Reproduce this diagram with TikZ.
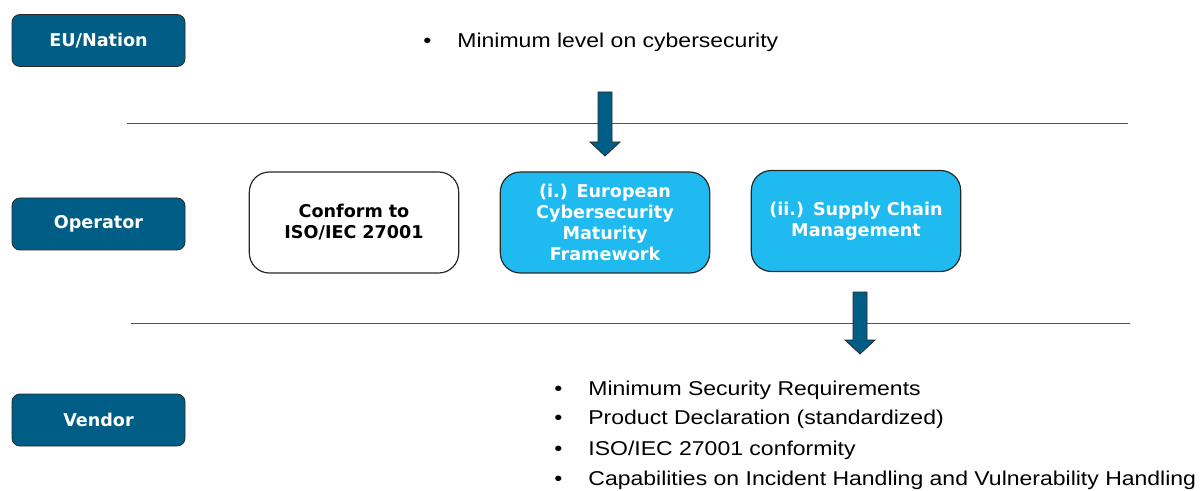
\documentclass[tikz,border=0pt]{standalone}
\usepackage{fontspec}
\setmainfont{Liberation Sans}
\newfontfamily\boxfont{DejaVu Sans}
\newfontfamily\listfont{Liberation Sans}[FakeStretch=1.15]
\usepackage{tikz}
\usetikzlibrary{arrows}

\definecolor{roleblue}{RGB}{0,94,134}
\definecolor{skyblue}{RGB}{30,186,240}
\definecolor{edgegray}{RGB}{40,40,40}

\tikzset{
  role/.style={draw=edgegray, fill=roleblue, rounded corners=4pt, minimum width=86.5pt, minimum height=26pt,
    text=white, font=\boxfont\bfseries\fontsize{8.8}{10.5}\selectfont},
  measure/.style={draw=edgegray, line width=0.6pt, rounded corners=10pt, minimum width=103pt, minimum height=50.5pt,
    text width=98pt, align=center, font=\boxfont\bfseries\fontsize{8.8}{10.5}\selectfont},
  bullet/.style={anchor=base west, inner sep=0pt, font=\listfont\fontsize{10}{12}\selectfont},
  blockarrow/.style={draw=edgegray, line width=0.4pt, fill=roleblue},
  divider/.style={draw=edgegray!80, line width=0.5pt}
}

\begin{document}
\begin{tikzpicture}[x=0.5pt,y=-0.5pt]
\useasboundingbox (0,0) rectangle (1202,491);

% roles on the left
\node [role] (eu) at (98.5,40.5) {EU/Nation};
\node [role] (op) at (98.5,224) {Operator};
\node [role] (ven) at (98.5,420) {Vendor};

% separators
\draw [divider] (127,124) -- (1128,124);
\draw [divider] (131,323) -- (1130,323);

% EU requirement
\node [bullet] (req) at (423,48) {\makebox[17pt][l]{\textbullet}Minimum level on cybersecurity};

% operator measures
\node [measure] (iso) at (354,222.5) {Conform to\\ISO/IEC 27001};
\node [measure, fill=skyblue, text=white] (ecmf) at (605,222.5) {(i.) European\\Cybersecurity\\Maturity\\Framework};
\node [measure, fill=skyblue, text=white] (scm) at (856,221) {(ii.) Supply Chain\\Management};

% block arrows
\coordinate (a1) at (605,92);
\draw [blockarrow] (a1) ++(-7,0) -- ++(14,0) -- ++(0,50) -- ++(8,0) -- ++(-15,14) -- ++(-15,-14) -- ++(8,0) -- cycle;
\coordinate (a2) at (860,292);
\draw [blockarrow] (a2) ++(-7,0) -- ++(14,0) -- ++(0,48) -- ++(8,0) -- ++(-15,14) -- ++(-15,-14) -- ++(8,0) -- cycle;

% vendor requirements
\node [bullet] (v1) at (554,395) {\makebox[17pt][l]{\textbullet}Minimum Security Requirements};
\node [bullet] (v2) at (554,424) {\makebox[17pt][l]{\textbullet}Product Declaration (standardized)};
\node [bullet] (v3) at (554,455) {\makebox[17pt][l]{\textbullet}ISO/IEC 27001 conformity};
\node [bullet] (v4) at (554,485) {\makebox[17pt][l]{\textbullet}Capabilities on Incident Handling and Vulnerability Handling};

\end{tikzpicture}
\end{document}
